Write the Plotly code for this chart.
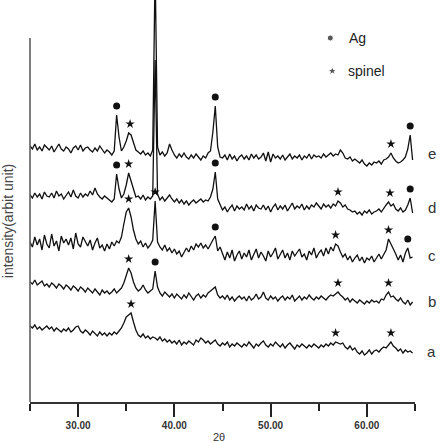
import plotly.graph_objects as go

# 2-theta sampling grid (degrees), 0.25 deg step
two_theta = [25 + 0.25 * i for i in range(160)]

# relative intensities (arbitrary units)
int_a = [36, 34, 37, 33, 35, 32, 34, 36,
         33, 35, 31, 34, 32, 30, 33, 31,
         34, 30, 32, 35, 36, 31, 29, 32,
         30, 27, 31, 28, 26, 30, 27, 29,
         26, 29, 27, 30, 28, 31, 34, 39,
         45, 47, 49, 40, 32, 27, 25, 28,
         24, 26, 23, 25, 24, 22, 25, 21,
         23, 20, 22, 19, 21, 18, 22, 17,
         20, 18, 21, 19, 17, 22, 20, 24,
         22, 19, 21, 18, 20, 22, 18, 16,
         19, 17, 20, 15, 18, 16, 19, 17,
         15, 18, 16, 20, 17, 14, 18, 16,
         19, 21, 17, 15, 18, 16, 20, 17,
         15, 18, 14, 17, 19, 16, 13, 17,
         15, 18, 16, 14, 17, 15, 18, 16,
         14, 17, 15, 18, 16, 19, 17, 20,
         19, 18, 19, 15, 13, 16, 12, 14,
         10, 8, 11, 7, 9, 12, 8, 11,
         12, 10, 13, 15, 14, 17, 20, 16,
         14, 11, 13, 9, 12, 10, 11, 9]

int_b = [35, 33, 37, 32, 34, 36, 31, 33,
         30, 34, 32, 29, 33, 31, 28, 32,
         30, 27, 31, 29, 26, 30, 28, 25,
         29, 26, 24, 28, 25, 22, 27, 24,
         26, 23, 25, 28, 24, 27, 29, 34,
         42, 49, 44, 35, 29, 26, 28, 32,
         27, 24, 26, 28, 46, 30, 24, 21,
         25, 22, 20, 23, 19, 23, 20, 18,
         22, 19, 24, 20, 17, 21, 23, 19,
         22, 20, 24, 26, 28, 30, 22, 19,
         21, 18, 22, 17, 20, 16, 19, 21,
         18, 20, 16, 21, 17, 19, 23, 18,
         20, 25, 19, 17, 21, 18, 20, 16,
         19, 21, 17, 20, 18, 22, 16, 19,
         21, 17, 20, 18, 22, 19, 17, 20,
         18, 21, 19, 17, 20, 22, 21, 23,
         25, 22, 20, 17, 19, 15, 18, 16,
         14, 17, 15, 13, 16, 14, 17, 15,
         16, 14, 18, 17, 22, 25, 20, 21,
         18, 16, 19, 15, 13, 17, 12, 15]

int_c = [30, 25, 35, 27, 33, 22, 37, 28,
         24, 38, 26, 31, 21, 36, 29, 33,
         27, 34, 23, 39, 28, 25, 35, 30,
         26, 32, 22, 29, 34, 24, 27, 21,
         28, 23, 30, 26, 31, 29, 35, 48,
         60, 64, 55, 42, 33, 28, 31, 25,
         29, 24, 27, 32, 71, 30, 25, 22,
         27, 21, 24, 19, 23, 18, 21, 15,
         19, 24, 20, 26, 22, 28, 25, 29,
         24, 27, 23, 28, 32, 36, 21, 25,
         18, 12, 20, 14, 22, 11, 17, 21,
         13, 19, 15, 22, 12, 18, 23, 14,
         20, 16, 11, 21, 15, 19, 24, 13,
         17, 22, 14, 19, 12, 21, 16, 20,
         23, 15, 18, 12, 21, 17, 24, 14,
         19, 22, 16, 24, 18, 25, 21, 28,
         26, 20, 15, 18, 12, 16, 10, 14,
         17, 11, 15, 9, 14, 12, 16, 10,
         14, 18, 13, 17, 22, 33, 28, 24,
         18, 12, 17, 10, 19, 24, 14, 15]

int_d = [32, 29, 34, 30, 33, 28, 35, 31,
         30, 34, 29, 36, 31, 33, 28, 32,
         35, 30, 37, 31, 29, 34, 30, 33,
         31, 36, 32, 39, 33, 30, 28, 31,
         29, 27, 25, 28, 53, 38, 29, 33,
         42, 54, 46, 36, 30, 31, 28, 32,
         27, 30, 28, 31, 167, 33, 27, 30,
         26, 29, 32, 28, 25, 28, 24, 27,
         23, 26, 22, 25, 27, 24, 26, 28,
         25, 27, 26, 30, 38, 55, 28, 22,
         17, 20, 15, 19, 22, 16, 21, 18,
         20, 17, 23, 18, 21, 16, 22, 19,
         18, 22, 17, 21, 15, 20, 23, 17,
         21, 18, 22, 16, 20, 24, 18, 21,
         19, 23, 17, 21, 18, 22, 20, 24,
         21, 18, 23, 20, 22, 19, 23, 21,
         26, 24, 20, 22, 18, 17, 15, 16,
         13, 15, 12, 16, 14, 17, 13, 15,
         16, 18, 15, 19, 22, 25, 21, 23,
         18, 16, 19, 15, 17, 22, 29, 14]

int_e = [31, 28, 33, 27, 30, 26, 32, 29,
         27, 31, 25, 29, 33, 28, 26, 30,
         28, 24, 29, 31, 27, 32, 26, 29,
         30, 27, 25, 29, 26, 31, 27, 24,
         27, 25, 22, 26, 62, 40, 26, 30,
         36, 44, 42, 34, 27, 25, 23, 26,
         22, 24, 21, 27, 210, 30, 22, 25,
         21, 24, 33, 27, 22, 19, 23, 20,
         24, 20, 18, 22, 19, 23, 20, 17,
         21, 19, 24, 26, 45, 71, 30, 20,
         19, 22, 17, 23, 18, 21, 16, 20,
         22, 18, 21, 17, 23, 19, 22, 18,
         20, 24, 16, 25, 15, 23, 19, 21,
         18, 22, 17, 20, 23, 18, 21, 19,
         22, 17, 21, 19, 23, 18, 22, 20,
         21, 19, 23, 20, 22, 24, 21, 23,
         22, 27, 24, 19, 18, 20, 16, 18,
         16, 14, 17, 13, 11, 14, 12, 15,
         14, 16, 13, 17, 18, 20, 24, 19,
         16, 14, 15, 17, 20, 28, 42, 17]

sample_names = ["a", "b", "c", "d", "e"]
sample_data = [int_a, int_b, int_c, int_d, int_e]
stack_offsets = [40, 85, 130, 175, 225]

# phase markers: (sample, 2theta, phase)
mark_sample = ["e", "e", "e", "e", "e",
               "d", "d", "d", "d", "d", "d",
               "c", "c", "c", "c", "c", "c",
               "b", "b", "b", "b",
               "a", "a", "a"]
mark_theta = [34.0, 35.4, 44.25, 62.5, 64.5,
              34.0, 35.25, 44.25, 57.0, 62.4, 64.5,
              35.25, 38.0, 44.25, 56.75, 62.25, 64.25,
              35.25, 38.0, 57.0, 62.25,
              35.5, 56.75, 62.5]
mark_phase = ["Ag", "spinel", "Ag", "spinel", "Ag",
              "Ag", "spinel", "Ag", "spinel", "spinel", "Ag",
              "spinel", "spinel", "Ag", "spinel", "spinel", "Ag",
              "spinel", "Ag", "spinel", "spinel",
              "spinel", "spinel", "spinel"]

phase_symbol = {"Ag": "circle", "spinel": "star"}
phase_size = {"Ag": 7, "spinel": 7}

fig = go.Figure()
for name, vals, off in zip(sample_names, sample_data, stack_offsets):
    fig.add_trace(go.Scatter(x=two_theta, y=[off + v for v in vals], mode="lines",
                             line=dict(color="#111111", width=1.3), showlegend=False,
                             hoverinfo="skip"))

gap = 9
for ph in ["Ag", "spinel"]:
    xs, ys = [], []
    for s, t, p in zip(mark_sample, mark_theta, mark_phase):
        if p != ph:
            continue
        k = sample_names.index(s)
        vals = sample_data[k]
        peak = max(v for x, v in zip(two_theta, vals) if abs(x - t) <= 0.3)
        xs.append(t)
        ys.append(stack_offsets[k] + peak + gap)
    fig.add_trace(go.Scatter(x=xs, y=ys, mode="markers",
                             marker=dict(symbol=phase_symbol[ph], size=phase_size[ph],
                                         color="#111111", line=dict(width=0)),
                             showlegend=False, cliponaxis=False))

# legend (drawn by hand like the original)
fig.add_trace(go.Scatter(x=[56.2, 56.4], y=[364, 331], mode="markers",
                         marker=dict(symbol=["circle", "star"], size=[6, 7], color="#111111"),
                         showlegend=False))
fig.add_annotation(x=57.9, y=364, xref="x", yref="y", text="Ag", showarrow=False,
                   xanchor="left", yanchor="middle",
                   font=dict(family="Arial", size=14, color="#222222"))
fig.add_annotation(x=57.8, y=331, xref="x", yref="y", text="spinel", showarrow=False,
                   xanchor="left", yanchor="middle",
                   font=dict(family="Arial", size=14, color="#222222"))

# sample labels at the right end (outside the plotting area)
for name, vals, off in zip(sample_names, sample_data, stack_offsets):
    yl = off + sum(vals[-6:]) / 6.0
    fig.add_annotation(x=1.044, y=yl, xref="paper", yref="y", text=name, showarrow=False,
                       xanchor="center", yanchor="middle",
                       font=dict(family="Arial", size=15, color="#333333"))

# y axis line (partial height, like the original)
fig.add_shape(type="line", xref="paper", x0=0, x1=0, yref="y", y0=0, y1=364,
              line=dict(color="#555555", width=1.5))

fig.add_annotation(text="intensity(arbit unit)", xref="paper", yref="paper",
                   x=-0.057, y=0.45, textangle=-90, showarrow=False,
                   xanchor="center", yanchor="middle",
                   font=dict(family="Arial", size=14, color="#444444"))
fig.add_annotation(text="2θ", xref="paper", yref="paper", x=0.49, y=-0.087,
                   showarrow=False, xanchor="center", yanchor="middle",
                   font=dict(family="Arial", size=11, color="#333333"))

fig.update_layout(
    width=441, height=443,
    margin=dict(l=30, r=26, t=0, b=41),
    paper_bgcolor="white", plot_bgcolor="white",
    xaxis=dict(range=[25, 65], showline=True, linecolor="#333333", linewidth=1.5,
               ticks="outside", tickvals=[30, 40, 50, 60],
               ticktext=["30.00", "40.00", "50.00", "60.00"],
               ticklen=13, tickwidth=2, tickcolor="#222222",
               tickfont=dict(family="Arial", size=10, color="#333333", weight="bold"),
               minor=dict(tickvals=[25, 35, 45, 55, 65], ticklen=7, tickwidth=2,
                          tickcolor="#222222", ticks="outside"),
               showgrid=False, zeroline=False, fixedrange=True),
    yaxis=dict(range=[0, 402], visible=False, showgrid=False, zeroline=False),
)

fig.write_html("out.html")
